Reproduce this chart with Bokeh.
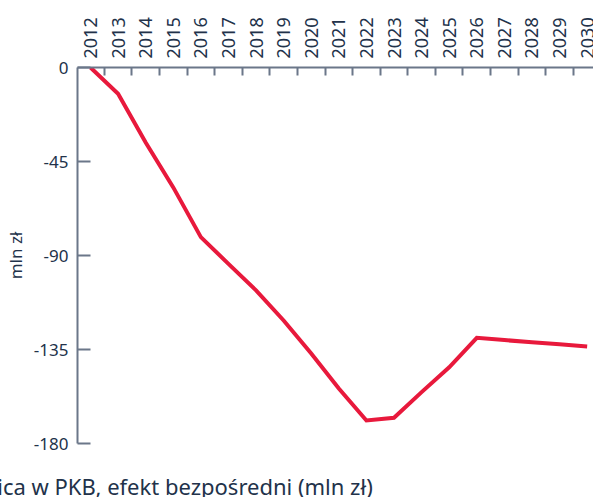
from bokeh.plotting import figure
from bokeh.models import Range1d, FixedTicker, LinearAxis, Title, ColumnDataSource
from bokeh.embed import file_html
from bokeh.resources import INLINE

years = ["2012", "2013", "2014", "2015", "2016", "2017", "2018", "2019", "2020", "2021",
         "2022", "2023", "2024", "2025", "2026", "2027", "2028", "2029", "2030"]
values = [0, -12.6, -35.9, -57.4, -81.2, -94.0, -106.7, -121.1, -136.9, -153.7,
          -169.0, -167.7, -155.4, -143.5, -129.4, -130.5, -131.5, -132.5, -133.6]
y_ticks = [0, -45, -90, -135, -180]
y_tick_labels = ["0", "-45", "-90", "-135", "-180"]
series_name = "Różnica w PKB, efekt bezpośredni (mln zł)"
y_title = "mln zł"

FONT = "Noto Sans"
TEXT = "#22324a"
AXIS = "#6b7789"

idx = list(range(len(years)))
src = ColumnDataSource(dict(x=idx, y=values))

p = figure(width=593, height=497, output_backend="svg", toolbar_location=None,
           x_range=Range1d(-0.471, 18.23), y_range=Range1d(-180, 0),
           x_axis_location=None, y_axis_location=None,
           min_border_left=77, min_border_top=67, min_border_bottom=54, min_border_right=0)
p.outline_line_color = None
p.grid.visible = False
p.background_fill_color = "white"
p.border_fill_color = "white"

p.line("x", "y", source=src, line_color="#e8193c", line_width=4, line_join="miter")

xa = LinearAxis(ticker=FixedTicker(ticks=idx, minor_ticks=[i + 0.5 for i in idx[:-1]]))
xa.major_label_overrides = {i: y for i, y in zip(idx, years)}
xa.major_label_orientation = "vertical"
xa.major_label_text_font = FONT
xa.major_label_text_font_size = "18px"
xa.major_label_text_color = TEXT
xa.major_label_standoff = 9
xa.major_tick_in = 0
xa.major_tick_out = 0
xa.minor_tick_in = 8
xa.minor_tick_out = 0
xa.minor_tick_line_color = AXIS
xa.minor_tick_line_width = 2
xa.axis_line_color = AXIS
xa.axis_line_width = 2
p.add_layout(xa, "above")

ya = LinearAxis(ticker=FixedTicker(ticks=y_ticks, minor_ticks=[]))
ya.major_label_overrides = {t: s for t, s in zip(y_ticks, y_tick_labels)}
ya.major_label_text_font = FONT
ya.major_label_text_font_size = "17px"
ya.major_label_text_color = TEXT
ya.major_label_standoff = 9
ya.major_tick_in = 13
ya.major_tick_out = 0
ya.major_tick_line_color = AXIS
ya.major_tick_line_width = 2
ya.minor_tick_in = 0
ya.minor_tick_out = 0
ya.axis_line_color = AXIS
ya.axis_line_width = 2
ya.axis_label = y_title
ya.axis_label_text_font = FONT
ya.axis_label_text_font_size = "17px"
ya.axis_label_text_font_style = "normal"
ya.axis_label_text_color = TEXT
ya.axis_label_standoff = 4
p.add_layout(ya, "left")

# empty spacer panel between the frame and the legend text
spacer = Title(text=" ", standoff=26, text_font=FONT, text_font_size="1px")
p.add_layout(spacer, "below")

leg = Title(text=series_name, align="left", offset=-131, standoff=-8,
            text_font=FONT, text_font_size="22px", text_font_style="normal",
            text_color=TEXT)
p.add_layout(leg, "below")

open("out.html", "w").write(file_html(p, INLINE))
